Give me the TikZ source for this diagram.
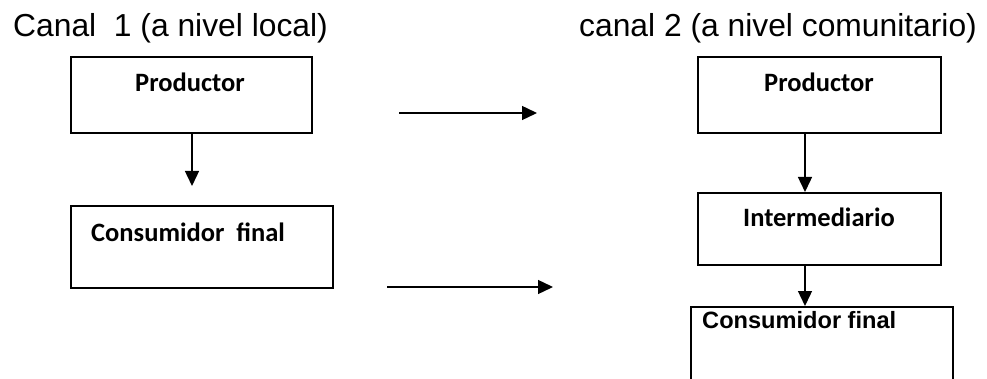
\documentclass[tikz,border=0pt]{standalone}
\usepackage{fontspec}
\setmainfont{Liberation Sans}
\newfontfamily\calibri{Carlito}
\usetikzlibrary{arrows.meta}
\tikzset{
  box/.style={draw=black, line width=1.6pt, anchor=north west, inner sep=0pt},
  arr/.style={draw=black, line width=1.4pt, -{Triangle[length=15pt,width=14pt]}},
  ttl/.style={font=\fontsize{31.8}{36}\selectfont, anchor=base west, inner sep=0pt},
  lbl/.style={font=\calibri\bfseries\fontsize{26.5}{30}\selectfont, anchor=base west, inner sep=0pt},
  lblA/.style={font=\bfseries\fontsize{23.6}{28}\selectfont, anchor=base west, inner sep=0pt},
}
\begin{document}
\begin{tikzpicture}[x=1pt,y=-1pt]
\path[use as bounding box, clip] (0,0) rectangle (987,379);
% titles
\node[ttl] (t1) at (13,37) {Canal\ \ 1 (a nivel local)};
\node[ttl] (t2) at (579,37) {canal 2 (a nivel comunitario)};
% boxes
\node[box, minimum width=241pt, minimum height=76pt] (p1) at (70,56) {};
\node[box, minimum width=262pt, minimum height=82pt] (c1) at (70,205) {};
\node[box, minimum width=243pt, minimum height=76pt] (p2) at (697,56) {};
\node[box, minimum width=243pt, minimum height=72pt] (im) at (697,192) {};
\node[box, minimum width=262pt, minimum height=90pt] (c2) at (690,306) {};
% labels
\node[lbl] (lp1) at (135,92) {Productor};
\node[lbl] (lc1) at (91,242) {Consumidor\ \ final};
\node[lbl] (lp2) at (764,92) {Productor};
\node[lbl] (lim) at (743,227) {Intermediario};
\node[lblA] (lc2) at (702,328) {Consumidor final};
% connectors
\coordinate (e1) at (192,186);
\draw[arr] (p1.south -| e1) -- (e1);
\coordinate (a1) at (399,113);
\coordinate (b1) at (537,113);
\draw[arr] (a1) -- (b1);
\coordinate (a2) at (387,287);
\coordinate (b2) at (553,287);
\draw[arr] (a2) -- (b2);
\coordinate (x2) at (805,0);
\draw[arr] (p2.south -| x2) -- (im.north -| x2);
\draw[arr] (im.south -| x2) -- (c2.north -| x2);
\end{tikzpicture}
\end{document}
